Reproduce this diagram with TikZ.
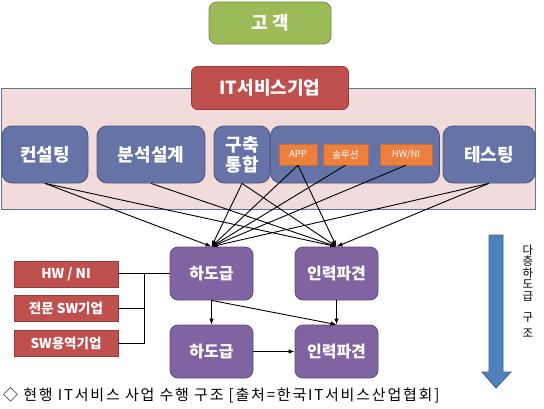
\documentclass[tikz,border=0pt]{standalone}
\usepackage{fontspec}
\setmainfont{Noto Sans CJK KR}
\usetikzlibrary{arrows.meta}
\definecolor{custgreen}{HTML}{9BBB59}
\definecolor{firmred}{HTML}{C0504D}
\definecolor{bandpink}{HTML}{F2DCDB}
\definecolor{bandedge}{HTML}{5A7398}
\definecolor{svcblue}{HTML}{6573A7}
\definecolor{partorange}{HTML}{EC803E}
\definecolor{subpurple}{HTML}{8064A2}
\definecolor{flowblue}{HTML}{4F81BD}

\begin{document}
\begin{tikzpicture}[x=1pt,y=-1pt,
    box/.style={rounded corners=8pt,text=white,inner sep=0pt,line width=0.8pt},
    svc/.style={box,rounded corners=10pt,fill=svcblue,draw=svcblue!75!black,minimum height=57pt,
      align=center,font=\fontsize{18}{20}\selectfont\bfseries},
    part/.style={fill=partorange,draw=partorange!85!black,text=white,inner sep=0pt,
      minimum height=21pt,font=\fontsize{9.5}{10}\selectfont},
    sub/.style={box,fill=subpurple,draw=subpurple!75!black,minimum width=83pt,minimum height=53pt,
      font=\fontsize{16}{18}\selectfont\bfseries},
    vendor/.style={fill=firmred,draw=firmred!75!black,text=white,inner sep=0pt,line width=0.8pt,
      minimum width=104pt,minimum height=26pt,font=\fontsize{13.5}{15}\selectfont\bfseries},
    link/.style={-{Latex[length=6pt,width=4.5pt]},line width=0.9pt}]

  \useasboundingbox (0,0) rectangle (544,408);

  \draw [fill=bandpink,draw=bandedge,line width=0.9pt] (1,88) rectangle (535,209);

  \node [box,fill=custgreen,draw=custgreen!75!black,minimum width=122pt,minimum height=42pt,
    font=\fontsize{18}{20}\selectfont\bfseries] (customer) at (270,23) {고 객};
  \node [box,rounded corners=6pt,fill=firmred,draw=firmred!75!black,minimum width=157pt,minimum height=43pt,
    font=\fontsize{18}{20}\selectfont\bfseries] (itfirm) at (270,88) {IT서비스기업};

  \node [svc,minimum width=86pt] (consult) at (45,154.5) {컨설팅};
  \node [svc,minimum width=108pt] (design) at (151,154.5) {분석설계};
  \node [svc,minimum width=56pt] (build) at (242,154.5) {구축\\통합};
  \node [svc,minimum width=169pt] (pkg) at (355,154.5) {};
  \node [svc,minimum width=92pt] (test) at (489,154.5) {테스팅};

  \node [part,minimum width=38pt] (app) at (298,154.5) {APP};
  \node [part,minimum width=45pt] (sol) at (345.5,154.5) {솔루션};
  \node [part,minimum width=52pt] (hwni) at (406,154.5) {HW/NI};

  \node [sub] (subA) at (211.5,273.5) {하도급};
  \node [sub] (dispA) at (336.5,273.5) {인력파견};
  \node [sub] (subB) at (211.5,351.5) {하도급};
  \node [sub] (dispB) at (336.5,351.5) {인력파견};

  \node [vendor] (vhw) at (66,274) {HW / NI};
  \node [vendor] (vsw) at (66,308.5) {전문 SW기업};
  \node [vendor] (vsvc) at (66,343) {SW용역기업};

  \draw [link] (consult.south) -- (subA.north);
  \draw [link] (consult.south) -- (dispA.north);
  \draw [link] (design.south) -- (dispA.north);
  \draw [link] (build.south) -- (subA.north);
  \draw [link] (build.south) -- (dispA.north);
  \draw [link] (app.south) -- (subA.north);
  \draw [link] (app.south) -- (dispA.north);
  \draw [link] (sol.south) -- (subA.north);
  \draw [link] (hwni.south) -- (subA.north);
  \draw [link] (test.south) -- (subA.north);
  \draw [link] (test.south) -- (dispA.north);

  \draw [link] (subA.south) -- (subB.north);
  \draw [link] (dispA.south) -- (dispB.north);
  \draw [link] (subA.south) -- (dispB.north);
  \draw [link] (subB.east) -- (dispB.west);

  \coordinate (jn) at (144,273.5);
  \draw [line width=0.9pt] (vhw.east |- jn) -- (subA.west);
  \draw [line width=0.9pt] (vsw.east) -- (vsw.east -| jn);
  \draw [line width=0.9pt] (vsvc.east) -| (jn);

  \draw [fill=flowblue,draw=flowblue!75!black,line width=0.8pt]
    (489,235) -- (503,235) -- (503,372) -- (511,372) -- (496,388) -- (482,372) -- (489,372) -- cycle;
  \node [align=center,font=\fontsize{11.5}{11.5}\selectfont] (layers) at (528,291)
    {다\\층\\하\\도\\급\\[10pt]구\\[4pt]조};

  \node [anchor=west,inner sep=0pt,font=\fontsize{15}{16}\selectfont\addfontfeature{LetterSpace=12}] (caption) at (3,395)
    {◇ 현행 IT서비스 사업 수행 구조 [출처=한국IT서비스산업협회]};
\end{tikzpicture}
\end{document}
